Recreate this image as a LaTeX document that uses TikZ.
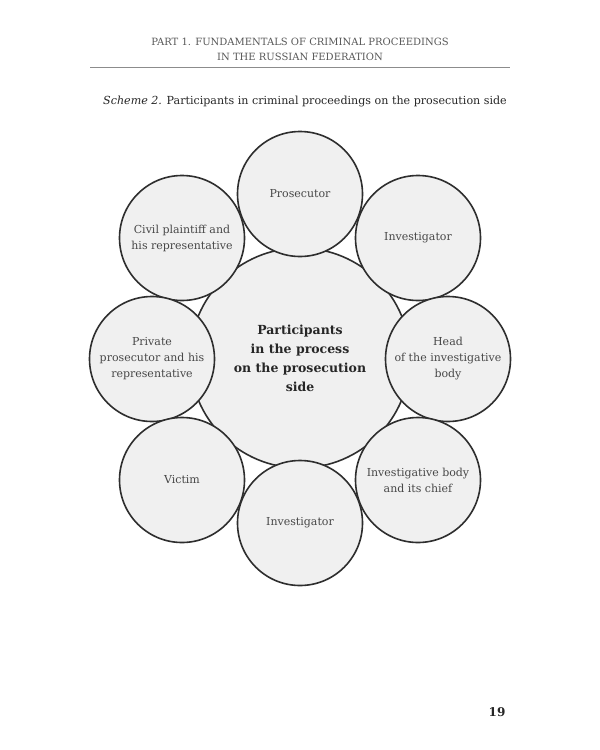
\documentclass[tikz,border=0pt]{standalone}
\usepackage{fontspec}
\setmainfont{DejaVu Serif}
\begin{document}
\begin{tikzpicture}[x=1pt,y=-1pt,
  ring/.style={circle,draw=black!82,line width=1.6pt,fill=black!6,minimum size=125pt,inner sep=0pt,align=center,text=black!72,font=\fontsize{11}{16}\selectfont},
  hub/.style={circle,draw=black!82,line width=1.6pt,fill=black!6,minimum size=220pt,inner sep=0pt,align=center,text=black!85,font=\fontsize{12.5}{19}\selectfont\bfseries},
  headtext/.style={align=center,text=black!65,font=\fontsize{10}{15}\selectfont,inner sep=0pt},
  captext/.style={text=black!85,font=\fontsize{11.1}{13}\selectfont,inner sep=0pt},
  pagenum/.style={text=black!85,font=\fontsize{12}{14}\selectfont\bfseries,inner sep=0pt}]
\useasboundingbox[fill=white] (0,0) rectangle (600,750);
% header
\node[headtext] (hdr) at (300,49.5) {PART 1. FUNDAMENTALS OF CRIMINAL PROCEEDINGS\\IN THE RUSSIAN FEDERATION};
\coordinate (rl) at (90,67);
\coordinate (rr) at (510,67);
\draw[black!45,line width=0.8pt] (rl) -- (rr);
\node[captext] (cap) at (305,102) {\itshape Scheme 2.\upshape{} Participants in criminal proceedings on the prosecution side};
% diagram
\node[hub] (hub) at (300,358) {Participants\\in the process\\on the prosecution\\side};
\node[ring] (civil) at (182,238) {Civil plaintiff and\\his representative};
\node[ring] (inv1) at (418,238) {Investigator};
\node[ring] (pros) at (300,194) {Prosecutor};
\node[ring] (priv) at (152,359) {Private\\prosecutor and his\\representative};
\node[ring] (head) at (448,359) {Head\\of the investigative\\body};
\node[ring] (victim) at (182,480) {Victim};
\node[ring] (body) at (418,480) {Investigative body\\and its chief};
\node[ring] (inv2) at (300,523) {Investigator};
% page number
\node[pagenum] (pg) at (497,712) {19};
\end{tikzpicture}
\end{document}
